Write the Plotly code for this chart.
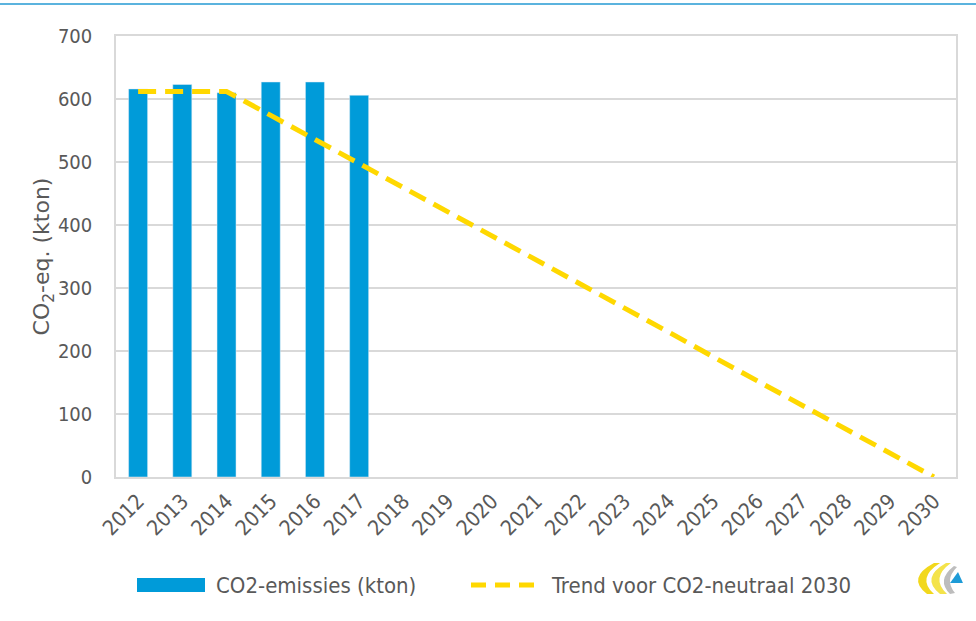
import plotly.graph_objects as go

years = [str(y) for y in range(2012, 2031)]
emission_years = ["2012", "2013", "2014", "2015", "2016", "2017"]
emissions = [616, 623, 610, 627, 627, 606]
trend = [612, 612, 612, 574, 536, 497, 459, 421, 383, 344, 306, 268, 230, 191, 153, 115, 77, 38, 0]
y_ticks = [0, 100, 200, 300, 400, 500, 600, 700]

BLUE = "#009BD9"
YELLOW = "#FFD800"
GREY_TXT = "#595959"
GRID = "#D9D9D9"
FONT = "DejaVu Sans Condensed, DejaVu Sans, sans-serif"
FONT_WIDE = "DejaVu Sans, sans-serif"

W, H = 976, 621
L, R, T, B = 116, 20, 36, 144
PW, PH = W - L - R, H - T - B


def px(x, y):
    """pixel -> paper coordinates (for decorations only)"""
    return (x - L) / PW, (H - B - y) / PH


def path_px(cmds):
    out = []
    for c in cmds:
        if isinstance(c, str):
            out.append(c)
        else:
            xp, yp = px(*c)
            out.append(f"{xp:.4f},{yp:.4f}")
    return " ".join(out)


fig = go.Figure()
fig.add_trace(go.Bar(x=emission_years, y=emissions, marker_color=BLUE,
                     name="CO2-emissies (kton)", showlegend=False))
fig.add_trace(go.Scatter(x=years, y=trend, mode="lines",
                         line=dict(color=YELLOW, width=5, dash="18px,9px"),
                         name="Trend voor CO2-neutraal 2030", showlegend=False))

fig.update_layout(
    width=W, height=H,
    margin=dict(l=L, r=R, t=T, b=B),
    plot_bgcolor="white", paper_bgcolor="white",
    bargap=0.57,
    font=dict(family=FONT, color=GREY_TXT, size=19),
    xaxis=dict(type="category", categoryorder="array", categoryarray=years,
               range=[-0.5, len(years) - 0.5],
               tickangle=-45, tickfont=dict(size=21, color=GREY_TXT, family=FONT),
               showline=True, linecolor=GRID, linewidth=1.5, mirror=True,
               showgrid=False, ticks="", ticklabelstandoff=2),
    yaxis=dict(range=[0, 700], tickvals=y_ticks,
               tickfont=dict(size=20, color=GREY_TXT, family=FONT),
               showline=True, linecolor=GRID, linewidth=1.5, mirror=True,
               gridcolor=GRID, gridwidth=1.5, ticks="", ticklabelstandoff=18,
               title=dict(text="CO<sub>2</sub>-eq. (kton)",
                          font=dict(size=22, color=GREY_TXT, family=FONT_WIDE),
                          standoff=1),
               zeroline=False),
)

# top decorative line
x0, y0 = px(0, 4)
x1, _ = px(W, 4)
fig.add_shape(type="line", xref="paper", yref="paper", x0=x0, x1=x1, y0=y0, y1=y0,
              line=dict(color="#5BB3DE", width=2))

# custom legend
lx0, ly = px(137, 585)
lx1, ly_top = px(205, 578)
_, ly_bot = px(0, 592)
fig.add_shape(type="rect", xref="paper", yref="paper",
              x0=lx0, x1=lx1, y0=ly_bot, y1=ly_top,
              fillcolor=BLUE, line=dict(width=0))
tx, _ = px(214, 585)
fig.add_annotation(xref="paper", yref="paper", x=tx, y=ly, xanchor="left", yanchor="middle",
                   text="CO2-emissies (kton)", showarrow=False,
                   font=dict(size=22, color=GREY_TXT, family=FONT))
dx0, _ = px(471, 585)
dx1, _ = px(536, 585)
fig.add_shape(type="line", xref="paper", yref="paper",
              x0=dx0, x1=dx1, y0=ly, y1=ly,
              line=dict(color=YELLOW, width=5, dash="15px,9px"))
tx2, _ = px(549, 585)
fig.add_annotation(xref="paper", yref="paper", x=tx2, y=ly, xanchor="left", yanchor="middle",
                   text="Trend voor CO2-neutraal 2030", showarrow=False,
                   font=dict(size=22, color=GREY_TXT, family=FONT))

# logo approximation
fig.add_shape(type="path", xref="paper", yref="paper",
              path=path_px(["M", (934, 563), "Q", (906, 578), (927, 594),
                            "L", (934, 594), "Q", (916, 578), (940, 563), "Z"]),
              fillcolor="#F2D81C", line=dict(width=0))
fig.add_shape(type="path", xref="paper", yref="paper",
              path=path_px(["M", (946, 563), "Q", (920, 578), (940, 594),
                            "L", (947, 594), "Q", (930, 578), (951, 563), "Z"]),
              fillcolor="#F4E34A", line=dict(width=0))
fig.add_shape(type="path", xref="paper", yref="paper",
              path=path_px(["M", (954, 566), "Q", (936, 580), (950, 594),
                            "L", (955, 593), "Q", (944, 580), (957, 567), "Z"]),
              fillcolor="#BDBDBD", line=dict(width=0))
fig.add_shape(type="path", xref="paper", yref="paper",
              path=path_px(["M", (950, 583), "L", (963, 583), "L", (958, 572), "Z"]),
              fillcolor="#1E9BD7", line=dict(width=0))

fig.write_html("out.html", config={"displayModeBar": False},
               post_script="document.body.style.margin='0';")
